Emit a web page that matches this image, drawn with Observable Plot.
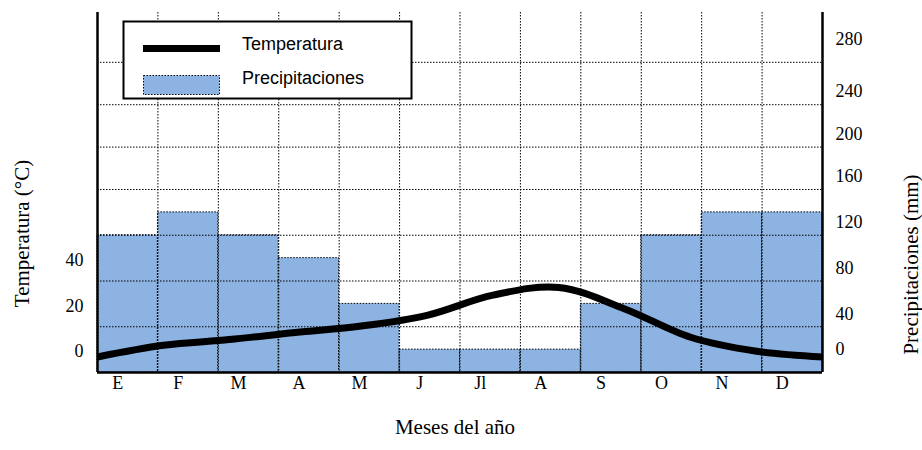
<!DOCTYPE html>
<html><head><meta charset="utf-8">
<script src="https://cdn.jsdelivr.net/npm/d3@7"></script>
<script src="https://cdn.jsdelivr.net/npm/@observablehq/plot@0.6"></script>
<style>
body{margin:0;background:#fff;}
#wrap{position:relative;width:922px;height:450px;}
#wrap svg.overlay{position:absolute;left:0;top:0;pointer-events:none;}
</style></head><body><div id="wrap"></div>
<script>
// Data
const months = ["E","F","M","A","M","J","Jl","A","S","O","N","D"];
const precipitation = [120,140,120,100,60,20,20,20,60,120,140,140]; // mm
const temperature = [6.8,11.9,14.4,17.5,20.3,25.0,33.8,37.2,27.8,15.4,9.3,6.8]; // ºC
const precipTicks = [0,40,80,120,160,200,240,280];
const tempTicks = [0,20,40];
const RATIO = 2; // P = 2T (climograph convention)

const bars = months.map((m, i) => ({i, m, p: precipitation[i]}));
const temp = temperature.map((t, i) => ({x: i * 12 / (temperature.length - 1), t}));

const W = 922, H = 450;
const dotted = {stroke: "#000", strokeWidth: 1, strokeDasharray: "1.5,1.5"};
const serif = "'Liberation Serif','Times New Roman',serif";

const plot = Plot.plot({
  width: W, height: H,
  marginLeft: 97, marginRight: 100, marginTop: 12, marginBottom: 78,
  style: {fontFamily: serif, fontSize: "18px", background: "#fff", color: "#000"},
  x: {type: "linear", domain: [0, 12], axis: null},
  y: {type: "linear", domain: [0, 160, 327], range: [372, 189, 12], axis: null},
  marks: [
    Plot.rect(bars, {x1: "i", x2: d => d.i + 1, y1: 0, y2: "p", fill: "#8DB3E2", ...dotted}),
    Plot.ruleY(precipTicks.slice(1), dotted),
    Plot.ruleX(d3.range(1, 12), dotted),
    Plot.line(temp, {x: "x", y: d => d.t * RATIO, stroke: "#000", strokeWidth: 7, curve: "catmull-rom", strokeLinecap: "butt", strokeLinejoin: "round"}),
    Plot.ruleX([0, 12], {stroke: "#000", strokeWidth: 2.5}),
    Plot.ruleY([0], {stroke: "#000", strokeWidth: 2.5}),
    Plot.axisX({ticks: d3.range(12).map(i => i + 0.5), tickFormat: d => months[Math.floor(d)], tickSize: 0, tickPadding: 4, dx: -10, label: null, fontSize: 18}),
    Plot.axisY({anchor: "left", ticks: tempTicks.map(t => t * RATIO), tickFormat: d => String(d / RATIO), tickSize: 0, tickPadding: 14, dy: -21, label: null, fontSize: 18}),
    Plot.axisY({anchor: "right", ticks: precipTicks.filter(v => v > 0 && v < 280), tickSize: 0, tickPadding: 13, dy: -13, label: null, fontSize: 18}),
    Plot.axisY({anchor: "right", ticks: [0, 280], tickSize: 0, tickPadding: 13, dy: -23, label: null, fontSize: 18}),
    Plot.text(["Temperatura (°C)"], {text: d => d, frameAnchor: "left", rotate: -90, dx: -75, dy: 41, fontSize: 21, textAnchor: "middle", lineAnchor: "middle"}),
    Plot.text(["Precipitaciones (mm)"], {text: d => d, frameAnchor: "right", rotate: -90, dx: 89, dy: 72, fontSize: 21, textAnchor: "middle", lineAnchor: "middle"}),
    Plot.text(["Meses del año"], {text: d => d, frameAnchor: "bottom", dx: -5, dy: 47, fontSize: 21, lineAnchor: "top"})
  ]
});
const wrap = document.getElementById("wrap");
wrap.appendChild(plot);

// Legend overlay
const lg = d3.select(wrap).append("svg").attr("class", "overlay").attr("width", W).attr("height", H);
lg.append("rect").attr("x", 123.5).attr("y", 21.5).attr("width", 288).attr("height", 77).attr("fill", "#fff").attr("stroke", "#000").attr("stroke-width", 2);
lg.append("line").attr("x1", 143).attr("x2", 220).attr("y1", 48.5).attr("y2", 48.5).attr("stroke", "#000").attr("stroke-width", 7);
lg.append("rect").attr("x", 143.5).attr("y", 75.5).attr("width", 76).attr("height", 19).attr("fill", "#8DB3E2").attr("stroke", "#000").attr("stroke-width", 1).attr("stroke-dasharray", "1.5,1.5");
const sans = "'Liberation Sans',Arial,sans-serif";
lg.append("text").attr("x", 242).attr("y", 50).attr("font-family", sans).attr("font-size", 18).text("Temperatura");
lg.append("text").attr("x", 242).attr("y", 83.5).attr("font-family", sans).attr("font-size", 18).text("Precipitaciones");
</script></body></html>
